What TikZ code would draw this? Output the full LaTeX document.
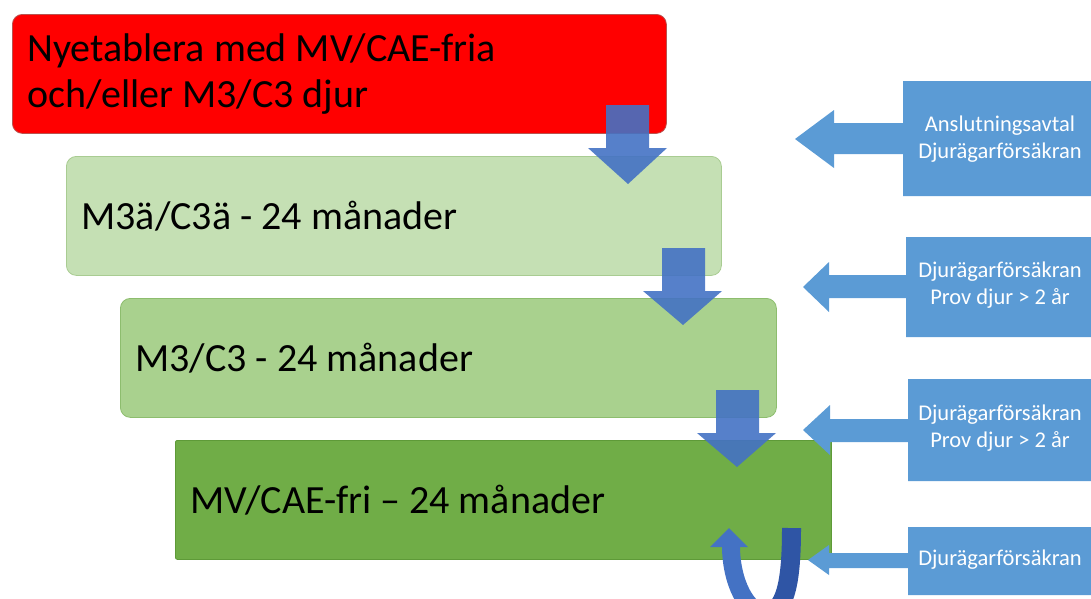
\documentclass[tikz,border=0pt]{standalone}
\usepackage{fontspec}
\setmainfont{Carlito}
\definecolor{redfill}{HTML}{FF0000}
\definecolor{redline}{HTML}{B85450}
\definecolor{greenA}{HTML}{C5E0B4}
\definecolor{greenAline}{HTML}{A9CC92}
\definecolor{greenB}{HTML}{A9D18E}
\definecolor{greenBline}{HTML}{8DBD6E}
\definecolor{greenC}{HTML}{70AD47}
\definecolor{greenCline}{HTML}{5E9A38}
\definecolor{downblue}{HTML}{4472C4}
\definecolor{darkblue}{HTML}{2F55A5}
\definecolor{callblue}{HTML}{5B9BD5}
\begin{document}
\begin{tikzpicture}[x=1pt,y=-1pt,
  stagebox/.style={anchor=north west, text width=#1, inner xsep=15pt, inner ysep=0pt,
    minimum height=119pt, align=flush left, line width=0.8pt,
    font=\fontsize{40}{46}\selectfont},
  downarrow/.style={fill=downblue, fill opacity=0.9, draw=none},
  callout/.style={fill=callblue, draw=none},
  calltext/.style={text=white, align=center, font=\fontsize{22.5}{27}\selectfont}
]
\useasboundingbox (0,0) rectangle (1091,598);
\clip (0,0) rectangle (1091,598);

% stage boxes
\node[stagebox=624pt, fill=redfill, draw=redline, rounded corners=10pt] (red) at (12,14)
  {Nyetablera med MV/CAE-fria\\och/eller M3/C3 djur};
\node[stagebox=625pt, fill=greenA, draw=greenAline, rounded corners=10pt] (g1) at (66,156)
  {M3ä/C3ä - 24 månader};
\node[stagebox=626pt, fill=greenB, draw=greenBline, rounded corners=10pt] (g2) at (120,298)
  {M3/C3 - 24 månader};
\node[stagebox=626pt, fill=greenC, draw=greenCline, rounded corners=2pt] (g3) at (175,440)
  {MV/CAE-fri – 24 månader};

% down block arrows
\fill[downarrow] (606,105) -- (649,105) -- (649,148) -- (667,148) -- (628,184) -- (588,148) -- (606,148) -- cycle;
\fill[downarrow] (662,248) -- (705,248) -- (705,291) -- (722,291) -- (683,325) -- (643,291) -- (662,291) -- cycle;
\fill[downarrow] (716,390) -- (759,390) -- (759,433) -- (776,433) -- (737,467) -- (697,433) -- (716,433) -- cycle;

% U-turn arrow
\draw[darkblue, line width=19pt] (791.5,528) .. controls (791.5,580) and (786,613) .. (765,613);
\draw[downblue, line width=18pt] (765,613) .. controls (747,613) and (731,582) .. (731,546);
\fill[downblue] (710,547) -- (748,547) -- (729,528) -- cycle;

% callouts on the right
\fill[callout] (1100,81) -- (903,81) -- (903,123) -- (834,123) -- (834,110) -- (795,139)
  -- (834,168) -- (834,154) -- (903,154) -- (903,196) -- (1100,196) -- cycle;
\node[calltext] (c1) at (1000,139) {Anslutningsavtal\\Djurägarförsäkran};

\fill[callout] (1100,237) -- (906,237) -- (906,275) -- (829,275) -- (829,262) -- (803,287)
  -- (829,312) -- (829,298) -- (906,298) -- (906,337) -- (1100,337) -- cycle;
\node[calltext] (c2) at (1000,285) {Djurägarförsäkran\\Prov djur > 2 år};

\fill[callout] (1100,379) -- (908,379) -- (908,419) -- (830,419) -- (830,405) -- (803,430)
  -- (830,455) -- (830,442) -- (908,442) -- (908,481) -- (1100,481) -- cycle;
\node[calltext] (c3) at (1000,428) {Djurägarförsäkran\\Prov djur > 2 år};

\fill[callout] (1100,527) -- (908,527) -- (908,553) -- (829,553) -- (829,545) -- (808,560)
  -- (829,575) -- (829,568) -- (908,568) -- (908,595) -- (1100,595) -- cycle;
\node[calltext] (c4) at (1000,560) {Djurägarförsäkran};
\end{tikzpicture}
\end{document}
